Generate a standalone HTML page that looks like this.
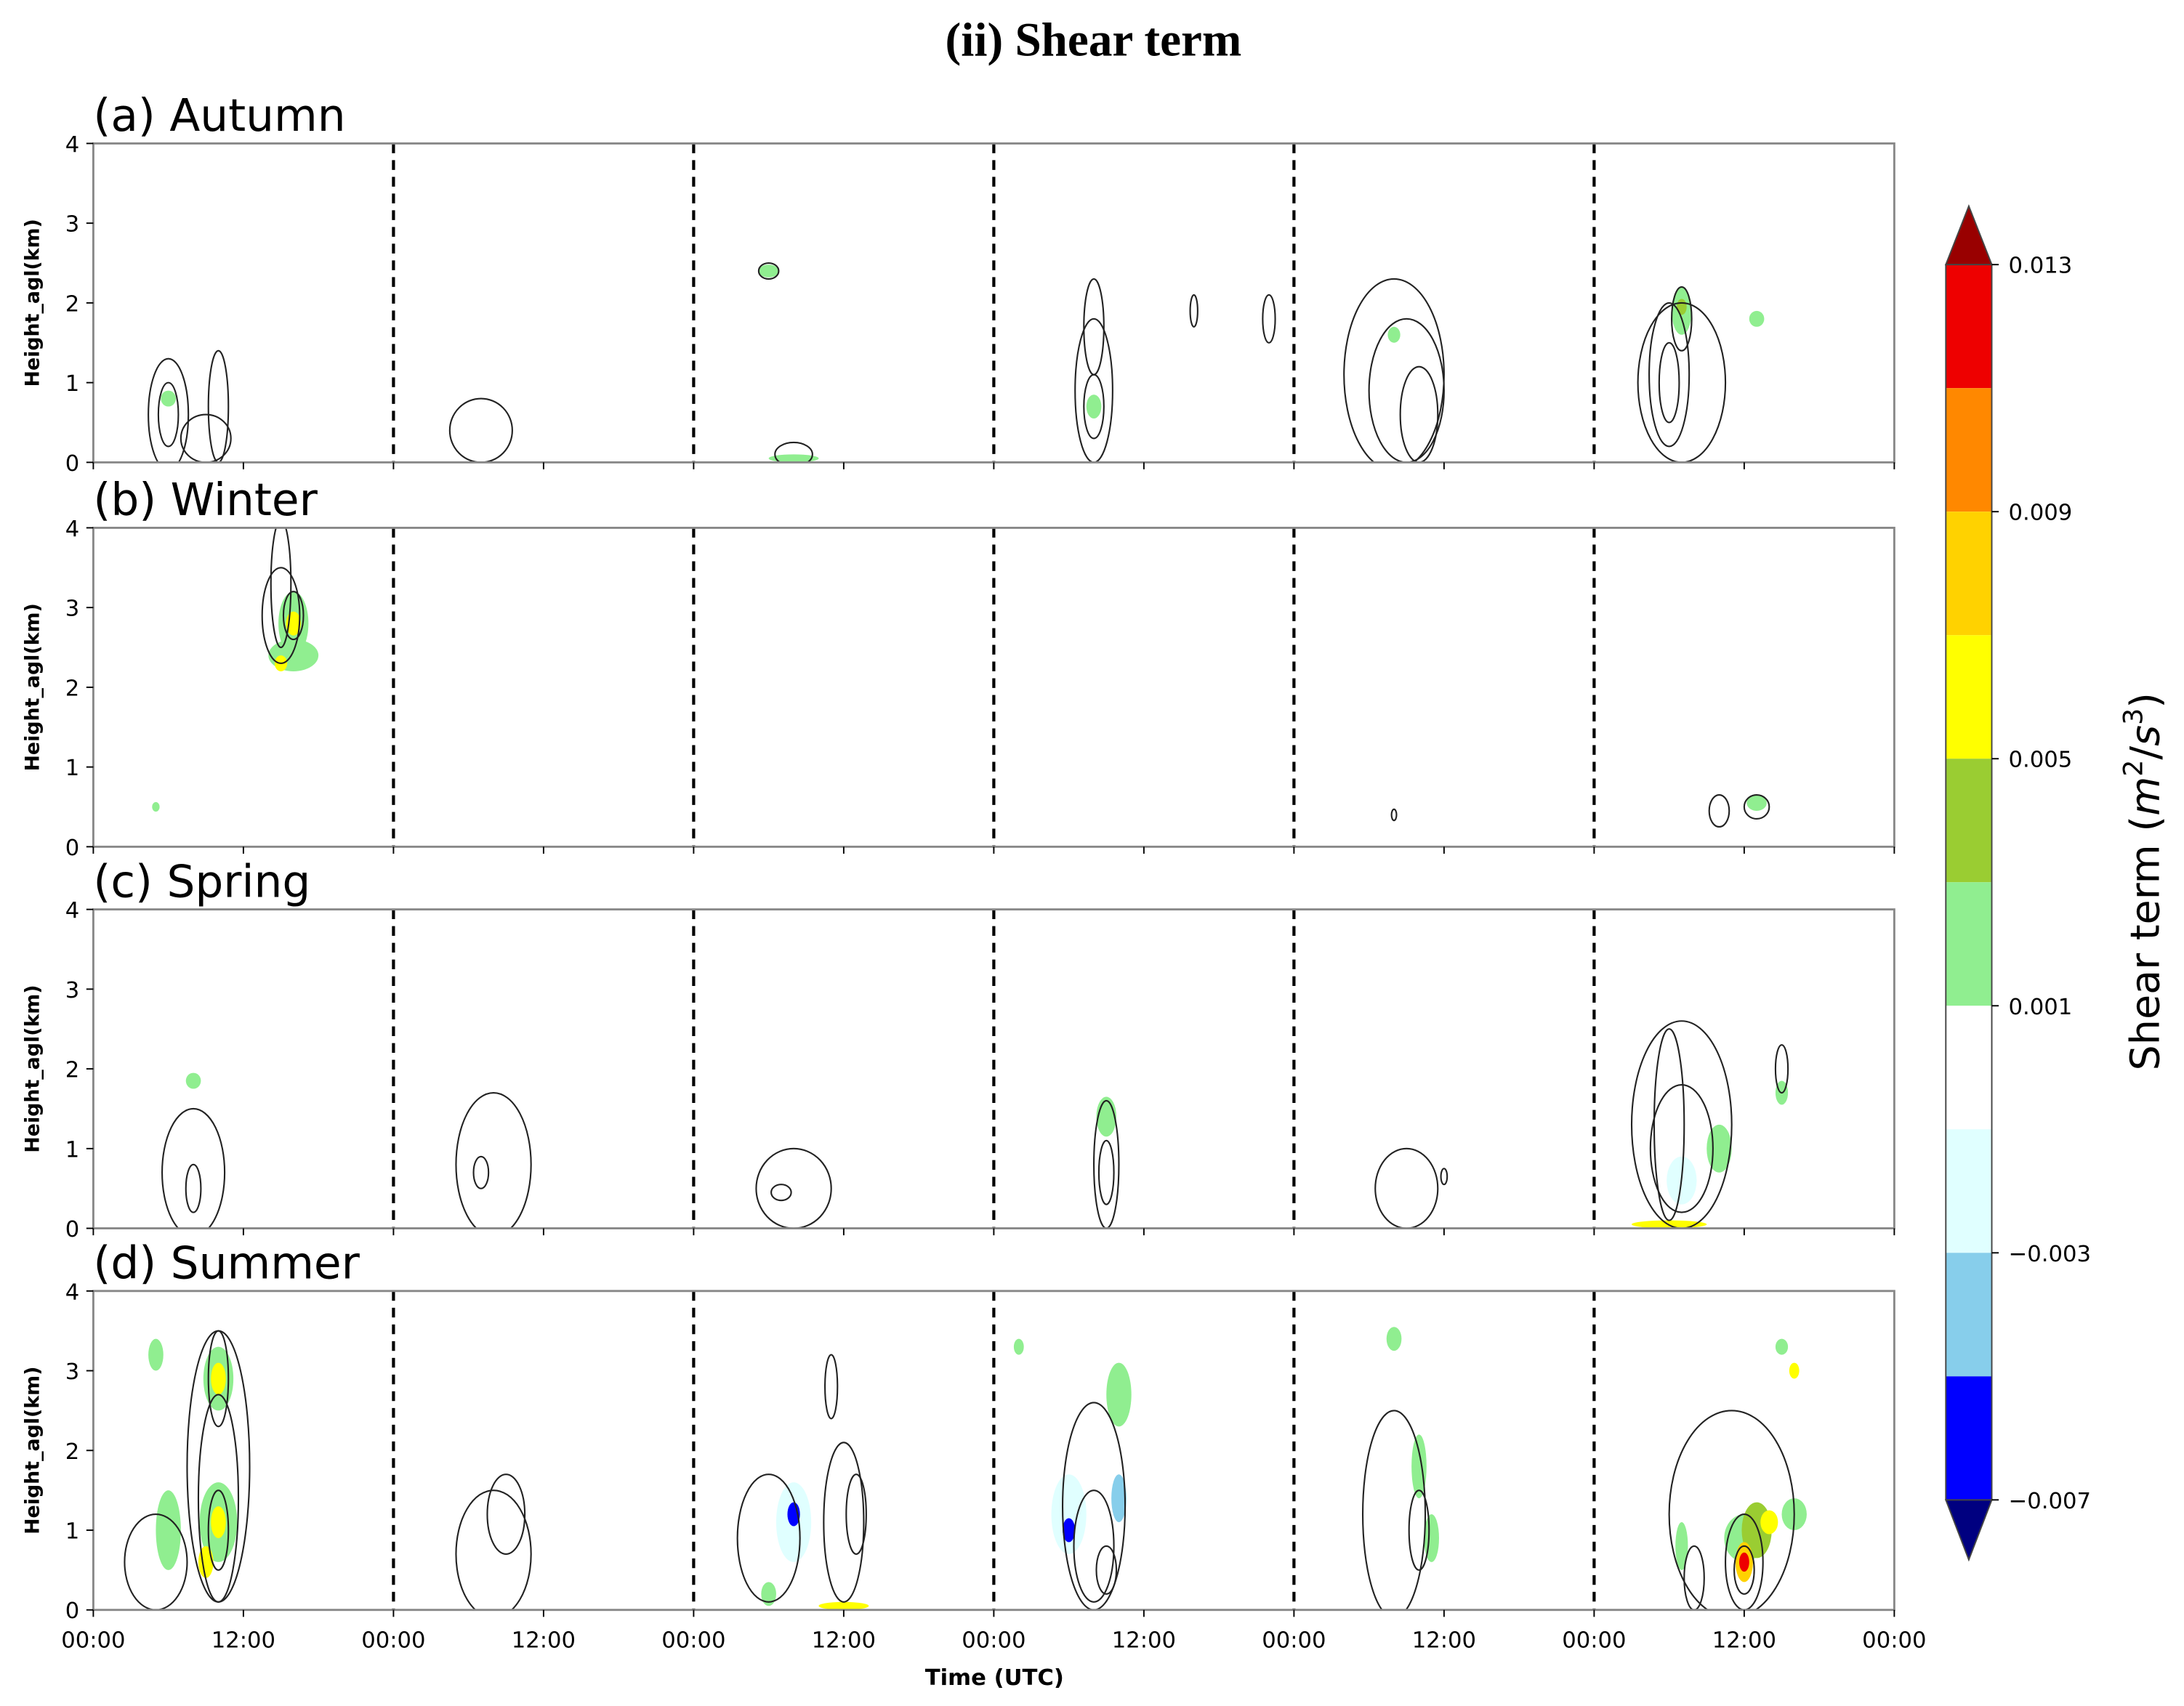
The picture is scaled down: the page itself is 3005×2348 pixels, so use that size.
<!DOCTYPE html>
<html><head><meta charset="utf-8"><style>
html,body{margin:0;padding:0;background:#fff}
svg{display:block;font-family:"DejaVu Sans","Liberation Sans",sans-serif}
</style></head><body>
<svg width="3005" height="2348" viewBox="0 0 1568 1225" preserveAspectRatio="none" xmlns="http://www.w3.org/2000/svg" id="chart">
<defs id="defs"></defs>
<text x="785" y="40" text-anchor="middle" font-family="Liberation Serif" font-weight="bold" font-size="34">(ii) Shear term</text>
<text x="714" y="1210" text-anchor="middle" font-weight="bold" font-size="16">Time (UTC)</text>
<g id="panels"></g>
<g id="cbar"></g>
</svg>
<script>
const panelNames=["(a) Autumn","(b) Winter","(c) Spring","(d) Summer"];
const panelTops=[103,379,653,927];
const xTickLabels=["00:00","12:00","00:00","12:00","00:00","12:00","00:00","12:00","00:00","12:00","00:00","12:00","00:00"];
const yTickValues=[0,1,2,3,4];
const dayBoundaries=[24,48,72,96,120];
// contour blobs: [panel, hour, height(km), halfwidth(h), halfheight(km)]
const contourBlobs=[
[0,6,0.6,1.6,0.7],[0,6,0.6,0.8,0.4],[0,10,0.7,0.8,0.7],[0,9,0.3,2,0.3],[0,31,0.4,2.5,0.4],[0,54,2.4,0.8,0.1],[0,56,0.1,1.5,0.15],
[0,80,0.9,1.5,0.9],[0,80,0.7,0.8,0.4],[0,80,1.7,0.8,0.6],[0,88,1.9,0.3,0.2],[0,94,1.8,0.5,0.3],
[0,104,1.1,4,1.2],[0,105,0.9,3,0.9],[0,106,0.6,1.5,0.6],[0,127,1.0,3.5,1.0],[0,126,1.1,1.6,0.9],[0,126,1.0,0.8,0.5],[0,127,1.8,0.8,0.4],
[1,15,3.3,0.8,0.8],[1,15,2.9,1.5,0.6],[1,16,2.9,0.8,0.3],[1,130,0.45,0.8,0.2],[1,133,0.5,1,0.15],[1,104,0.4,0.2,0.07],
[2,8,0.7,2.5,0.8],[2,8,0.5,0.6,0.3],[2,32,0.8,3,0.9],[2,31,0.7,0.6,0.2],[2,56,0.5,3,0.5],[2,55,0.45,0.8,0.1],
[2,81,0.8,1,0.8],[2,81,0.7,0.6,0.4],[2,105,0.5,2.5,0.5],[2,108,0.65,0.25,0.1],[2,127,1.3,4,1.3],[2,127,1.0,2.5,0.8],[2,126,1.3,1.2,1.2],[2,135,2.0,0.5,0.3],
[3,5,0.6,2.5,0.6],[3,10,1.8,2.5,1.7],[3,10,1.4,1.6,1.3],[3,10,1.0,0.8,0.5],[3,10,2.9,0.8,0.6],[3,32,0.7,3,0.8],[3,33,1.2,1.5,0.5],
[3,54,0.9,2.5,0.8],[3,60,1.1,1.6,1.0],[3,61,1.2,0.8,0.5],[3,59,2.8,0.5,0.4],
[3,80,1.3,2.5,1.3],[3,80,0.8,1.6,0.7],[3,81,0.5,0.8,0.3],[3,104,1.2,2.5,1.3],[3,106,1.0,0.8,0.5],
[3,131,1.2,5,1.3],[3,132,0.6,1.5,0.6],[3,132,0.5,0.8,0.3],[3,128,0.4,0.8,0.4]];
// filled anomalies: [panel, hour, height, halfwidth, halfheight, value]
const fillBlobs=[
[0,6,0.8,0.6,0.1,0.002],[0,54,2.4,0.8,0.08,0.002],[0,56,0.05,2,0.05,0.002],[0,80,0.7,0.6,0.15,0.002],[0,104,1.6,0.5,0.1,0.002],[0,127,1.9,0.8,0.3,0.002],[0,127,1.95,0.4,0.1,0.004],[0,133,1.8,0.6,0.1,0.002],
[1,16,2.4,2,0.2,0.002],[1,16,2.8,1.2,0.4,0.002],[1,16,2.8,0.6,0.15,0.007],[1,15,2.3,0.5,0.1,0.007],[1,5,0.5,0.3,0.06,0.002],[1,133,0.55,0.8,0.1,0.002],
[2,8,1.85,0.6,0.1,0.002],[2,81,1.4,0.8,0.25,0.002],[2,127,0.6,1.2,0.3,-0.002],[2,126,0.05,3,0.05,0.007],[2,130,1.0,1,0.3,0.002],[2,135,1.7,0.5,0.15,0.002],
[3,10,2.9,1.2,0.4,0.002],[3,10,2.9,0.6,0.2,0.007],[3,10,1.1,1.5,0.5,0.002],[3,10,1.1,0.6,0.2,0.007],[3,6,1.0,1,0.5,0.002],[3,5,3.2,0.6,0.2,0.002],[3,9,0.6,0.6,0.2,0.007],
[3,56,1.1,1.4,0.5,-0.002],[3,56,1.2,0.5,0.15,-0.006],[3,54,0.2,0.6,0.15,0.002],[3,60,0.05,2,0.05,0.007],
[3,78,1.2,1.4,0.5,-0.002],[3,78,1.0,0.5,0.15,-0.006],[3,82,1.4,0.6,0.3,-0.004],[3,82,2.7,1,0.4,0.002],[3,74,3.3,0.4,0.1,0.002],
[3,106,1.8,0.6,0.4,0.002],[3,104,3.4,0.6,0.15,0.002],[3,107,0.9,0.6,0.3,0.002],
[3,132,0.9,1.6,0.3,0.002],[3,133,1.0,1.2,0.35,0.004],[3,134,1.1,0.7,0.15,0.007],[3,132,0.6,0.7,0.25,0.009],[3,132,0.6,0.4,0.12,0.013],[3,136,1.2,1,0.2,0.002],[3,136,3.0,0.4,0.1,0.006],[3,135,3.3,0.5,0.1,0.002],[3,127,0.8,0.5,0.3,0.002]];
const cbTickLabels=["0.013","0.009","0.005","0.001","\u22120.003","\u22120.007"];
const cbLevels=[0.013,0.011,0.009,0.007,0.005,0.003,0.001,-0.001,-0.003,-0.005,-0.007];
const cbColors=["#ee0000","#ff8800","#ffd200","#ffff00","#9acd32","#90ee90","#ffffff","#e0ffff","#87ceeb","#0000ff"];

const NS="http://www.w3.org/2000/svg";
const X0=67,X1=1360,PH=229;
const xs=h=>X0+(X1-X0)*h/144;
const ys=(p,v)=>panelTops[p]+PH-PH*v/4;
function mk(t,a,par){const e=document.createElementNS(NS,t);for(const k in a)e.setAttribute(k,a[k]);par.appendChild(e);return e;}
function colorFor(v){for(let i=0;i<cbColors.length;i++){if(v<=cbLevels[i]&&v>cbLevels[i+1])return cbColors[i];}return v>0?"#990000":"#000080";}
const G=document.getElementById("panels");
const D=document.getElementById("defs");
panelTops.forEach((top,p)=>{
  const cp=mk("clipPath",{id:"clip"+p},D);
  mk("rect",{x:X0,y:top,width:X1-X0,height:PH},cp);
  const g=mk("g",{},G);
  
  
  const inner=mk("g",{"clip-path":`url(#clip${p})`},g);
  fillBlobs.filter(b=>b[0]===p).forEach(b=>{
    const e=mk("ellipse",{cx:xs(b[1]),cy:ys(p,b[2]),rx:xs(b[3])-X0,ry:PH*b[4]/4,fill:colorFor(b[5])},inner);
    
    
  });
  contourBlobs.filter(b=>b[0]===p).forEach(b=>{
    const e=mk("ellipse",{cx:xs(b[1]),cy:ys(p,b[2]),rx:xs(b[3])-X0,ry:PH*b[4]/4,fill:"none",stroke:"#222","stroke-width":1.1},inner);
    
    
  });
  const t2=mk("text",{x:67,y:top-9,"font-size":32},g);t2.textContent=panelNames[p];
  
  
  dayBoundaries.forEach(d=>{
    const l=mk("line",{x1:xs(d),x2:xs(d),y1:top,y2:top+PH,stroke:"#000","stroke-width":2.2,"stroke-dasharray":"7,5"},g);
    
    
  });
  const fr=mk("rect",{x:X0,y:top,width:X1-X0,height:PH,fill:"none",stroke:"#888","stroke-width":1.5},g);
  
  
  yTickValues.forEach(v=>{
    mk("line",{x1:X0-5,x2:X0,y1:ys(p,v),y2:ys(p,v),stroke:"#000"},g);
    const tt=mk("text",{x:X0-10,y:ys(p,v)+6,"font-size":16,"text-anchor":"end"},g);tt.textContent=v;
    
    
  });
  const yl=mk("text",{x:0,y:0,"font-size":14,"font-weight":"bold","text-anchor":"middle",transform:`translate(28,${top+PH/2}) rotate(-90)`},g);
  yl.textContent="Height_agl(km)";
  
  
  xTickLabels.forEach((lab,i)=>{
    mk("line",{x1:xs(i*12),x2:xs(i*12),y1:top+PH,y2:top+PH+5,stroke:"#000"},g);
    if(p===3){const tt=mk("text",{x:xs(i*12),y:top+PH+27,"font-size":16,"text-anchor":"middle"},g);tt.textContent=lab;
    
    }
  });
});
const C=document.getElementById("cbar");
const cbTop=190,cbBot=1077,cx0=1397,cx1=1430;
const cy=v=>cbTop+(cbBot-cbTop)*(0.013-v)/0.02;
mk("polygon",{points:`${cx0},${cbTop} ${cx1},${cbTop} ${(cx0+cx1)/2},148`,fill:"#990000",stroke:"#444"},C);
mk("polygon",{points:`${cx0},${cbBot} ${cx1},${cbBot} ${(cx0+cx1)/2},1120`,fill:"#000080",stroke:"#444"},C);
cbColors.forEach((c,i)=>{
  const r=mk("rect",{x:cx0,y:cy(cbLevels[i]),width:cx1-cx0,height:cy(cbLevels[i+1])-cy(cbLevels[i]),fill:c},C);
  
  
});
mk("rect",{x:cx0,y:cbTop,width:cx1-cx0,height:cbBot-cbTop,fill:"none",stroke:"#444"},C);
cbTickLabels.forEach((l,i)=>{
  const y=cy(0.013-0.004*i);
  mk("line",{x1:cx1,x2:cx1+5,y1:y,y2:y,stroke:"#000"},C);
  const t=mk("text",{x:cx1+12,y:y+6,"font-size":16},C);t.textContent=l;
  
  
});
const ct=mk("text",{x:0,y:0,"font-size":29,"text-anchor":"middle",transform:"translate(1550,633) rotate(-90)"},C);
ct.innerHTML='Shear term (<tspan font-style="italic">m</tspan><tspan font-size="19" dy="-12">2</tspan><tspan dy="12">/</tspan><tspan font-style="italic">s</tspan><tspan font-size="19" dy="-12">3</tspan><tspan dy="12">)</tspan>';


</script>
</body></html>
